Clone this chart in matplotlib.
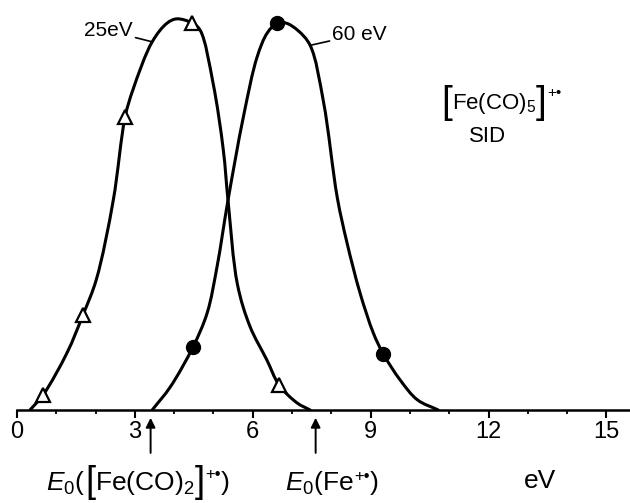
import numpy as np
import matplotlib
matplotlib.use("Agg")
import matplotlib.pyplot as plt
from matplotlib.path import Path
from matplotlib.patches import PathPatch
from matplotlib.ticker import MultipleLocator

plt.rcParams['font.family'] = ['Liberation Sans', 'DejaVu Sans']
plt.rcParams['mathtext.fontset'] = 'custom'
plt.rcParams['mathtext.rm'] = 'Liberation Sans'
plt.rcParams['mathtext.it'] = 'Liberation Sans:italic'
plt.rcParams['mathtext.bf'] = 'Liberation Sans:bold'

# 25 eV curve (energy in eV, relative intensity)
curve25_x = [0.33, 0.66, 1.27, 1.68, 2.02, 2.45, 2.75, 2.95, 3.44, 3.82,
             4.07, 4.46, 4.66, 4.99, 5.25, 5.37, 5.61, 5.93, 6.36, 6.67,
             7.13, 7.46]
curve25_y = [0.0, 0.038, 0.146, 0.244, 0.335, 0.538, 0.751, 0.821, 0.944, 0.992,
             1.003, 0.992, 0.974, 0.838, 0.667, 0.538, 0.322, 0.214, 0.128, 0.064,
             0.018, 0.0]
pts25_x = [0.66, 1.68, 2.75, 4.46, 6.67]
pts25_y = [0.038, 0.244, 0.751, 0.992, 0.064]

# 60 eV curve
curve60_x = [3.44, 3.90, 4.48, 4.84, 5.09, 5.37, 5.76, 6.11, 6.37, 6.62,
             6.85, 7.15, 7.46, 7.80, 8.15, 8.40, 8.73, 9.07, 9.32, 9.75, 10.19,
             10.72]
curve60_y = [0.0, 0.059, 0.162, 0.249, 0.367, 0.538, 0.751, 0.905, 0.967,
             0.992, 0.992, 0.973, 0.935, 0.790, 0.545, 0.428, 0.300, 0.197, 0.144,
             0.077, 0.026, 0.0]
pts60_x = [4.48, 6.62, 9.32]
pts60_y = [0.162, 0.992, 0.144]

# appearance energies marked by arrows
e0_pos = [3.4, 7.6]

PX_X = 613 / 15.6   # pixels per eV
PX_Y = 390.0        # pixels per intensity unit


def smooth_path(xs, ys, alpha=0.5):
    # centripetal catmull-rom through the read points, as cubic bezier segments
    p = np.column_stack([np.array(xs) * PX_X, np.array(ys) * PX_Y])
    p = np.vstack([2 * p[0] - p[1], p, 2 * p[-1] - p[-2]])
    verts = [p[1]]
    codes = [Path.MOVETO]
    for i in range(1, len(p) - 2):
        p0, p1, p2, p3 = p[i - 1], p[i], p[i + 1], p[i + 2]
        d1 = np.linalg.norm(p1 - p0) ** alpha
        d2 = np.linalg.norm(p2 - p1) ** alpha
        d3 = np.linalg.norm(p3 - p2) ** alpha
        b1 = (d1 ** 2 * p2 - d2 ** 2 * p0 + (2 * d1 ** 2 + 3 * d1 * d2 + d2 ** 2) * p1) / (3 * d1 * (d1 + d2))
        b2 = (d3 ** 2 * p1 - d2 ** 2 * p3 + (2 * d3 ** 2 + 3 * d3 * d2 + d2 ** 2) * p2) / (3 * d3 * (d3 + d2))
        verts += [b1, b2, p2]
        codes += [Path.CURVE4] * 3
    verts = np.array(verts) / [PX_X, PX_Y]
    return Path(verts, codes)


fig = plt.figure(figsize=(6.3, 5.03), dpi=100)
ax = fig.add_axes([17 / 630, 93 / 503, 613 / 630, 410 / 503])

for cx, cy in [(curve25_x, curve25_y), (curve60_x, curve60_y)]:
    ax.add_patch(PathPatch(smooth_path(cx, cy), facecolor='none',
                           edgecolor='black', lw=2.2, capstyle='round'))
ax.plot(pts25_x, pts25_y, linestyle='none', marker='^', markersize=10.5,
        markerfacecolor='white', markeredgecolor='black', markeredgewidth=1.6,
        clip_on=False)
ax.plot(pts60_x, pts60_y, linestyle='none', marker='o', markersize=10,
        color='black', clip_on=False)

ax.set_xlim(0, 15.6)
ax.set_ylim(0, 410 / 390)

for s in ['left', 'top', 'right']:
    ax.spines[s].set_visible(False)
ax.spines['bottom'].set_linewidth(1.8)
ax.set_yticks([])
ax.xaxis.set_major_locator(MultipleLocator(3))
ax.xaxis.set_minor_locator(MultipleLocator(1))
ax.tick_params(axis='x', which='major', length=6, width=1.5, labelsize=17, pad=2)
ax.tick_params(axis='x', which='minor', length=3, width=1.3)

# curve labels with leader lines
ax.annotate("25eV", xy=(curve25_x[8], curve25_y[8]), xytext=(-14, 8),
            textcoords='offset points', ha='right', va='center', fontsize=15,
            arrowprops=dict(arrowstyle='-', lw=1.2, color='black', shrinkA=0, shrinkB=0))
ax.annotate("60 eV", xy=(curve60_x[12], curve60_y[12]), xytext=(16, 8),
            textcoords='offset points', ha='left', va='center', fontsize=15,
            arrowprops=dict(arrowstyle='-', lw=1.2, color='black', shrinkA=0, shrinkB=0))


def chain(prev, base, text, size, va='center', yfrac=0.5):
    # put a piece of text right after the previous one, on the base line of 'base'
    return ax.annotate(text, xy=(1, yfrac), xycoords=(prev, base), va=va, ha='left',
                       fontsize=size, annotation_clip=False)


# [Fe(CO)5]+. SID
lb = fig.text(441 / 630, 1 - 103 / 503, "[", fontsize=28, va='center', ha='left')
inner = chain(lb, lb, r"Fe(CO)$_5$", 16)
rb = chain(inner, lb, "]", 28)
chain(rb, rb, "+•", 11, va='top', yfrac=0.97)
fig.text(488 / 630, 1 - 137 / 503, "SID", fontsize=16, ha='center', va='center')

# E0 arrows and labels
for xp in e0_pos:
    ax.annotate("", xy=(xp, -0.02), xytext=(xp, -0.11), annotation_clip=False,
                arrowprops=dict(arrowstyle='-|>', lw=1.4, color='black',
                                mutation_scale=14, shrinkA=0, shrinkB=0))

e1 = fig.text(46 / 630, 1 - 483 / 503, r"$E_0$(", fontsize=19, va='center', ha='left')
o1 = chain(e1, e1, "[", 26)
o2 = chain(o1, e1, r"Fe(CO)$_2$", 19)
o3 = chain(o2, e1, "]", 26)
o4 = chain(o3, o3, "+•", 12, va='top', yfrac=0.97)
chain(o4, e1, ")", 19)

f1 = fig.text(285 / 630, 1 - 483 / 503, r"$E_0$(Fe", fontsize=19, va='center', ha='left')
f2 = chain(f1, f1, "+•", 12, va='top', yfrac=1.0)
chain(f2, f1, ")", 19)

fig.text(540 / 630, 1 - 481 / 503, "eV", fontsize=19, ha='center', va='center')

fig.savefig("out.png", dpi=100)
